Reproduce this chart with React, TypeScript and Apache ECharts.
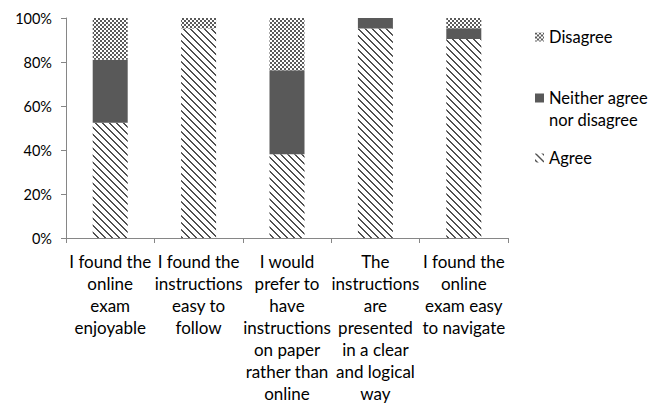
import React, { useEffect, useRef } from "react";
import * as echarts from "echarts";

const categories = [
  "I found the\nonline\nexam\nenjoyable",
  "I found the\ninstructions\neasy to\nfollow",
  "I would\nprefer to\nhave\ninstructions\non paper\nrather than\nonline",
  "The\ninstructions\nare\npresented\nin a clear\nand logical\nway",
  "I found the\nonline\nexam easy\nto navigate",
];
const agree = [52.4, 95.2, 38.1, 95.2, 90.5];
const neither = [28.6, 0, 38.1, 4.8, 4.8];
const disagree = [19.0, 4.8, 23.8, 0, 4.8];
const yTicks = [0, 20, 40, 60, 80, 100];

function makePattern(size: number, isDark: (x: number, y: number) => boolean, dark: string) {
  const c = document.createElement("canvas");
  c.width = size;
  c.height = size;
  const ctx = c.getContext("2d")!;
  ctx.fillStyle = "#ffffff";
  ctx.fillRect(0, 0, size, size);
  ctx.fillStyle = dark;
  for (let y = 0; y < size; y++) {
    for (let x = 0; x < size; x++) {
      if (isDark(x, y)) ctx.fillRect(x, y, 1, 1);
    }
  }
  return {
    image: c.toDataURL(),
    repeat: "repeat",
    imageWidth: size,
    imageHeight: size,
  } as any;
}

export default function App() {
  const ref = useRef<HTMLDivElement>(null);
  useEffect(() => {
    if (!ref.current) return;
    const chart = echarts.init(ref.current, null, { renderer: "svg" });
    const hatch = makePattern(7, (x, y) => {
      const d = (((x - y) % 7) + 7) % 7;
      return d === 0 || d === 1;
    }, "#505050");
    const checker = makePattern(4, (x, y) => ((x >> 1) + (y >> 1)) % 2 === 0, "#5a5a5a");
    const font = "Lato, 'Noto Sans', sans-serif";
    const legendBase = {
      orient: "vertical" as const,
      left: 530,
      itemWidth: 9,
      itemHeight: 9,
      itemGap: 6,
      icon: "rect",
      textStyle: { fontFamily: font, fontSize: 16.5, color: "#000", lineHeight: 22 },
    };
    chart.setOption({
      animation: false,
      grid: { left: 66, right: 159, top: 18, bottom: 168 },
      legend: [
        { ...legendBase, data: ["Disagree"], top: 21 },
        {
          ...legendBase,
          data: ["Neither agree nor disagree"],
          top: 82,
          formatter: () => "Neither agree",
        },
        { ...legendBase, data: ["Agree"], top: 142 },
      ],
      graphic: [
        {
          type: "text",
          left: 549,
          top: 109,
          style: { text: "nor disagree", fontFamily: font, fontSize: 16.5, fill: "#000", lineHeight: 22 },
        },
      ],
      xAxis: {
        type: "category",
        data: categories,
        axisLine: { lineStyle: { color: "#868686" } },
        axisTick: { show: true, length: 5, lineStyle: { color: "#868686" } },
        axisLabel: {
          interval: 0,
          fontFamily: font,
          fontSize: 17,
          color: "#000",
          lineHeight: 22,
          margin: 12,
        },
      },
      yAxis: {
        type: "value",
        min: 0,
        max: 100,
        interval: 20,
        axisLine: { show: true, lineStyle: { color: "#868686" } },
        axisTick: { show: true, length: 5, lineStyle: { color: "#868686" } },
        splitLine: { show: false },
        axisLabel: {
          formatter: (v: number) => (yTicks.includes(v) ? `${v}%` : ""),
          fontFamily: font,
          fontSize: 14.5,
          color: "#000",
          margin: 14,
        },
      },
      series: [
        { name: "Agree", type: "bar", stack: "all", data: agree, barWidth: 35, itemStyle: { color: hatch } },
        { name: "Neither agree nor disagree", type: "bar", stack: "all", data: neither, barWidth: 35, itemStyle: { color: "#595959" } },
        { name: "Disagree", type: "bar", stack: "all", data: disagree, barWidth: 35, itemStyle: { color: checker } },
      ],
    });
    return () => chart.dispose();
  }, []);
  return <div ref={ref} style={{ width: 667, height: 406, position: "absolute", left: 0, top: 0 }} />;
}
